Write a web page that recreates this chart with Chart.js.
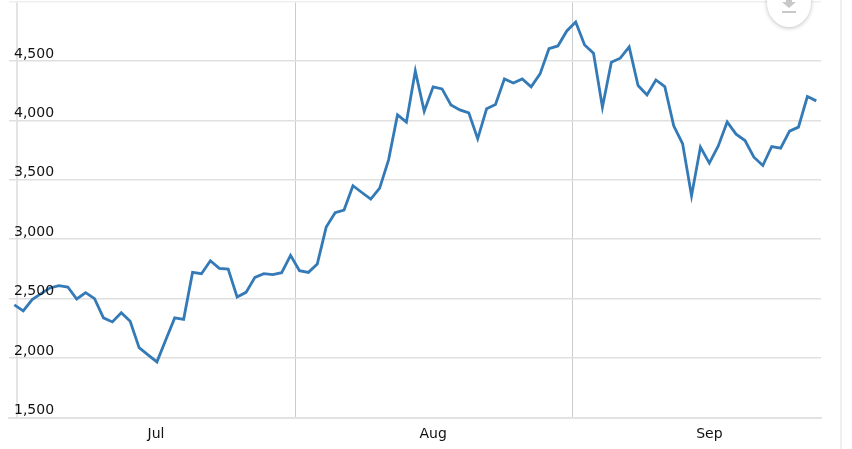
<!DOCTYPE html>
<html>
<head>
<meta charset="utf-8">
<title>Line chart</title>
<script src="https://cdn.jsdelivr.net/npm/chart.js@4/dist/chart.umd.min.js"></script>
<style>
  html, body { margin: 0; padding: 0; background: #fff; overflow: hidden; }
  #wrap { position: relative; width: 852px; height: 449px; }
  #edge { position: absolute; left: 840px; top: 0; width: 2px; height: 449px; background: #efefef; }
  #download { position: absolute; left: 767px; top: -22px; width: 44px; height: 49px; border-radius: 50%;
    background: #fff; box-shadow: 0 1px 4px rgba(0,0,0,.25); }
  #download svg { position: absolute; left: 15px; top: 20px; }
</style>
</head>
<body>
<div id="wrap">
  <canvas id="lineChart" width="852" height="449"></canvas>
  <div id="edge"></div>
  <div id="download">
    <svg width="14" height="16" viewBox="0 0 14 16"><path d="M4 0h6v4h4l-7 6-7-6h4zM0 13h14v2H0z" fill="#c8c8c8"/></svg>
  </div>
</div>
<script>
// one value per day
const values = [
  2447, 2397, 2492, 2542, 2590, 2609, 2598, 2497, 2550, 2500,
  2338, 2304, 2382, 2309, 2088, 2027, 1968, 2155, 2338, 2326,
  2721, 2710, 2819, 2755, 2749, 2514, 2553, 2679, 2710, 2702,
  2718, 2864, 2735, 2721, 2792, 3102, 3223, 3245, 3450, 3393,
  3338, 3430, 3668, 4046, 3985, 4416, 4077, 4282, 4265, 4130,
  4088, 4063, 3845, 4097, 4133, 4349, 4315, 4349, 4282, 4391,
  4603, 4626, 4752, 4828, 4634, 4565, 4111, 4489, 4523, 4618,
  4293, 4214, 4340, 4284, 3954, 3803, 3366, 3775, 3640, 3785,
  3987, 3884, 3830, 3690, 3620, 3780, 3766, 3909, 3943, 4200,
  4164
];
const days = values.map((v, i) => i);
const monthLabels = ['Jul', 'Aug', 'Sep'];
const monthCenters = [15.9, 47, 78];
const monthStarts = [0.35, 31.5, 62.6];
const yTicks = [1500, 2000, 2500, 3000, 3500, 4000, 4500, 5000];

new Chart(document.getElementById('lineChart'), {
  type: 'line',
  data: {
    labels: days,
    datasets: [{
      data: days.map((d, i) => ({ x: d, y: values[i] })),
      borderColor: '#337ab7',
      borderWidth: 2.8,
      pointRadius: 0,
      tension: 0,
      fill: false
    }]
  },
  options: {
    responsive: false,
    animation: false,
    layout: { padding: { left: 9, right: 31, top: 1.5, bottom: 0 } },
    plugins: { legend: { display: false }, tooltip: { enabled: false } },
    font: { family: 'DejaVu Sans' },
    scales: {
      x: {
        type: 'linear',
        min: -0.6,
        max: 90.53,
        afterBuildTicks: (axis) => {
          axis.ticks = monthStarts.concat(monthCenters).map(v => ({ value: v }));
        },
        afterFit: (axis) => { axis.height = 31.5; },
        grid: {
          drawTicks: false,
          // only the month starts get a line, first one is lighter
          lineWidth: (ctx) => (ctx.tick && ctx.tick.value === monthStarts[0]) ? 2 : 1,
          color: (ctx) => {
            if (!ctx.tick) return 'transparent';
            const idx = monthStarts.indexOf(ctx.tick.value);
            if (idx < 0) return 'transparent';
            return idx === 0 ? '#e4e4e4' : '#cccccc';
          }
        },
        border: { color: '#e2e2e2', width: 2 },
        ticks: {
          autoSkip: false,
          maxRotation: 0,
          padding: 8,
          color: '#111',
          font: { family: 'DejaVu Sans', size: 14 },
          callback: (value) => {
            const idx = monthCenters.indexOf(value);
            return idx < 0 ? '' : monthLabels[idx];
          }
        }
      },
      y: {
        min: 1500,
        max: 5000,
        afterBuildTicks: (axis) => {
          axis.ticks = yTicks.map(v => ({ value: v }));
        },
        // labels sit inside the plot, so the axis must not reserve any room
        afterFit: (axis) => {
          axis.width = 0;
          axis.paddingTop = 0;
          axis.paddingBottom = 0;
        },
        grid: {
          drawTicks: false,
          lineWidth: 1.5,
          color: (ctx) => (ctx.tick && ctx.tick.value === 5000) ? '#efefef' : '#e0e0e0'
        },
        border: { display: false },
        ticks: {
          mirror: true,
          z: 1,
          padding: 5,
          labelOffset: -7,
          color: '#111',
          font: { family: 'DejaVu Sans', size: 14 },
          callback: (value) => value === 5000 ? '' : value.toLocaleString('en-US')
        }
      }
    }
  }
});
</script>
</body>
</html>
